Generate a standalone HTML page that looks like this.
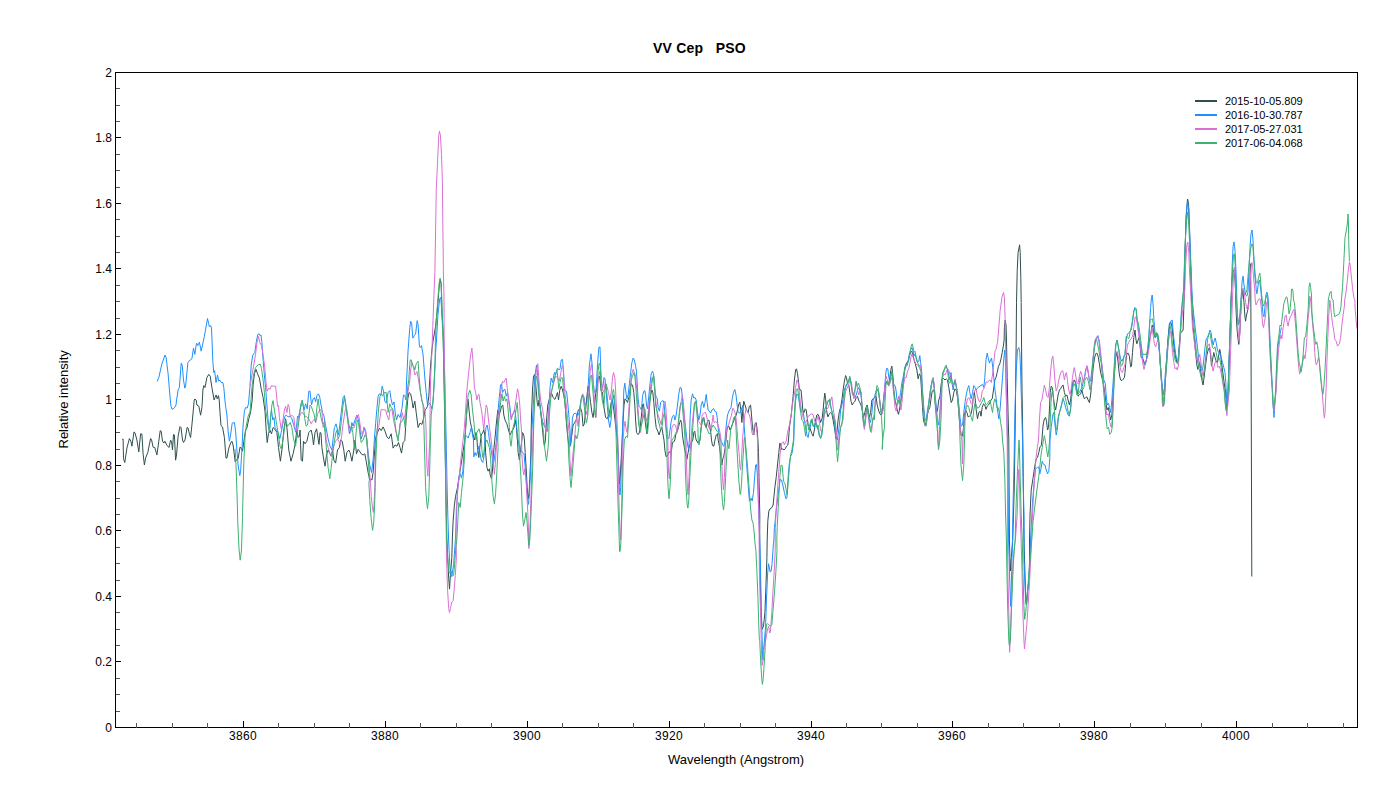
<!DOCTYPE html><html><head><meta charset="utf-8"><title>VV Cep PSO</title><style>
html,body{margin:0;padding:0;background:#fff}
body{width:1400px;height:800px;position:relative;overflow:hidden;font-family:"Liberation Sans",Arial,sans-serif;color:#000}
.t{position:absolute;white-space:pre;line-height:1}
.yl{font-size:12px;text-align:right;width:60px;left:52px}
.xl{font-size:12px;text-align:center;width:60px;top:730px;letter-spacing:.3px}
.lg{font-size:11px;left:1225px}

</style></head><body>
<svg width="1400" height="800" viewBox="0 0 1400 800" style="position:absolute;left:0;top:0">
<g fill="none" stroke-width="1" stroke-linejoin="round">
<polyline stroke="#2F4F4F" points="122.2,439.4 123.1,439.0 123.5,458.8 124.8,462.5 126.9,448.1 129.4,438.5 130.9,441.2 131.9,446.2 134.0,431.9 135.0,432.8 136.9,440.0 138.8,451.9 140.6,433.8 141.9,434.0 143.1,453.8 144.4,465.0 145.6,458.1 147.8,452.5 150.6,438.5 151.6,440.0 153.1,447.2 154.8,447.5 156.9,455.0 158.8,441.2 160.2,430.6 161.2,431.2 162.5,441.2 163.8,443.1 164.8,441.2 166.9,445.2 169.0,447.5 170.6,440.2 171.5,441.2 172.5,450.0 173.5,434.4 174.4,435.0 175.6,460.2 176.5,455.0 178.1,436.2 180.0,426.5 181.0,427.5 182.5,440.0 183.5,442.5 185.0,440.0 187.2,427.2 188.1,428.1 189.4,433.8 190.6,437.5 191.9,425.0 193.8,405.0 194.2,400.0 195.0,399.0 196.2,400.0 196.9,405.0 198.8,406.2 200.6,415.2 201.9,407.5 202.4,400.0 202.9,390.0 203.8,385.6 205.0,387.5 206.9,377.5 208.8,374.4 210.2,376.2 211.9,387.5 214.1,400.0 215.0,397.5 216.2,395.0 217.2,398.8 218.5,395.6 219.2,400.0 220.0,412.5 221.0,425.6 222.5,426.9 224.4,437.5 226.0,458.1 226.9,458.1 228.8,448.1 230.6,443.1 231.9,441.2 233.1,445.0 235.2,461.9 236.2,460.0 238.1,458.8 240.0,447.2 241.2,448.1 242.5,451.2 244.4,437.5 245.6,430.0 246.9,428.1 248.8,418.8 250.6,412.2 252.2,400.0 253.1,385.0 254.4,373.8 256.0,369.4 257.5,373.8 259.4,378.1 261.2,388.8 263.1,397.5 265.0,411.2 266.2,430.0 267.2,442.5 268.5,433.8 269.8,430.0 271.5,433.8 273.1,427.5 275.0,429.4 276.9,432.5 278.5,447.5 280.4,461.2 281.9,450.0 283.8,430.0 285.6,418.8 286.9,427.5 288.8,450.0 291.0,461.2 293.1,453.8 295.0,445.0 296.9,430.0 298.1,437.5 299.4,436.2 300.0,430.0 301.2,460.0 302.5,461.2 303.5,441.2 305.0,443.8 306.9,441.2 308.8,432.5 311.2,430.0 312.5,436.2 313.5,445.0 315.0,432.5 316.6,428.8 318.1,438.8 319.0,444.4 320.0,432.5 321.0,433.1 321.9,447.5 323.8,460.0 325.0,466.2 326.5,455.0 328.1,450.0 330.0,453.8 331.2,456.2 332.5,450.0 333.8,460.0 335.6,463.1 337.5,450.0 339.4,447.5 340.6,440.0 342.2,441.2 343.8,450.0 345.2,461.2 346.9,452.5 348.8,450.0 350.0,452.5 351.9,461.2 353.8,450.0 355.0,440.0 356.5,453.8 358.1,449.4 360.0,451.9 361.2,453.8 363.1,455.0 364.8,453.8 366.2,461.2 368.1,472.5 369.8,480.0 370.8,479.4 371.9,480.0 373.1,472.5 374.4,455.0 375.6,437.5 377.5,432.5 379.4,428.1 381.2,430.6 383.1,426.9 385.0,431.2 386.9,436.9 388.8,438.8 391.2,433.8 393.1,448.1 395.0,445.0 396.9,446.2 398.5,442.5 400.0,447.5 401.5,453.1 403.1,442.5 404.8,440.6 406.2,417.5 407.8,398.8 409.0,392.5 410.6,393.8 411.9,400.0 413.1,408.1 414.8,401.2 416.2,412.5 418.1,427.5 420.0,423.1 421.9,424.4 423.8,417.5 425.0,410.0 426.2,408.8 427.5,406.2 428.8,396.2 430.6,365.0 431.9,350.0 433.2,340.0 435.6,326.3 437.6,307.0 439.3,285.0 440.1,279.5 441.1,283.6 442.0,312.5 443.3,340.0 444.2,390.0 445.0,440.0 445.8,490.0 446.9,540.0 447.7,557.5 448.7,578.1 449.5,589.1 450.4,575.4 451.8,557.5 452.3,540.0 453.1,521.2 454.4,505.0 455.6,496.2 457.5,487.5 460.0,471.2 462.5,455.0 464.8,440.0 465.0,438.8 466.2,420.0 467.5,400.0 468.1,399.4 469.0,410.0 470.2,421.2 471.5,427.5 473.1,435.0 474.6,440.0 475.2,436.2 476.0,432.5 476.6,435.0 477.0,440.0 477.5,447.5 478.8,457.5 479.8,447.5 480.6,440.0 481.2,435.0 482.5,433.1 483.8,430.0 484.8,435.0 485.2,440.0 485.6,452.5 486.9,467.5 488.1,471.2 489.4,468.8 490.2,475.0 491.5,478.8 492.5,470.0 493.5,452.5 494.8,440.0 496.2,425.0 497.8,410.0 499.0,415.0 500.0,412.5 501.5,406.2 502.8,405.0 503.8,415.0 505.0,420.0 506.9,423.8 508.5,430.0 510.0,435.0 511.2,432.5 512.5,430.0 514.0,427.5 515.2,420.0 516.5,427.5 517.2,438.8 517.5,440.0 518.1,452.5 519.4,460.0 520.2,452.5 521.2,445.0 521.9,440.0 522.5,432.5 523.8,435.0 524.4,440.0 525.2,452.5 526.2,468.8 527.2,487.5 528.1,498.8 529.0,493.8 530.0,475.0 531.0,450.0 531.0,440.0 531.5,415.0 532.5,390.0 533.5,376.2 534.8,374.4 536.0,387.5 537.2,402.5 538.1,406.2 539.0,400.0 540.2,407.5 541.5,420.0 542.8,432.5 543.5,440.0 544.4,446.2 545.4,440.0 546.5,420.0 547.8,405.0 549.4,398.8 550.6,395.0 551.9,393.8 553.1,397.5 555.0,399.4 556.2,396.2 557.5,392.5 558.5,400.0 559.8,390.0 561.2,386.2 562.5,390.0 563.8,395.0 565.0,402.5 566.2,420.0 567.5,435.0 568.1,440.0 569.0,447.5 570.0,446.2 571.2,440.0 573.1,425.0 574.4,423.1 576.2,420.0 577.5,412.5 578.8,409.4 580.6,408.1 581.9,412.5 583.1,426.2 584.4,423.8 585.6,410.0 586.9,396.2 588.1,386.2 589.4,392.5 590.6,402.5 591.9,412.5 593.1,417.5 594.4,407.5 595.6,393.8 596.9,387.5 598.1,377.5 599.4,376.2 600.0,380.0 601.2,391.2 602.5,392.5 604.0,407.5 605.6,417.5 607.2,418.8 608.8,415.0 610.0,410.0 611.2,402.5 612.5,400.0 613.8,410.0 615.0,420.0 616.2,430.0 617.5,440.0 618.5,465.0 619.4,483.8 620.2,477.5 621.2,458.8 622.2,440.0 623.1,420.0 624.0,405.0 625.0,398.8 626.2,400.0 627.5,402.5 628.8,397.5 630.0,390.0 631.2,383.8 632.5,385.0 633.8,392.5 634.8,405.0 635.6,420.0 636.5,432.5 637.8,434.4 639.0,433.8 640.2,427.5 641.5,415.0 642.5,405.0 643.5,403.8 644.4,412.5 645.6,425.0 646.9,433.8 648.1,420.0 649.4,405.0 650.6,395.0 651.9,390.0 652.8,392.5 653.8,402.5 655.0,417.5 656.2,427.5 657.8,431.2 659.0,435.0 660.6,430.0 661.9,427.5 663.1,435.0 664.0,440.0 665.0,451.2 666.2,456.9 667.8,455.0 669.0,451.9 670.2,452.5 671.5,450.0 672.5,442.5 673.8,441.9 674.8,440.0 676.2,432.5 677.8,430.0 679.0,425.0 680.6,420.0 681.5,422.5 682.5,435.0 683.1,440.0 684.4,447.5 685.6,453.8 686.9,459.4 688.1,452.5 689.4,446.2 691.2,442.5 692.8,440.0 693.8,432.5 694.8,431.2 695.6,437.5 696.2,440.0 698.1,443.1 700.0,440.0 701.2,427.5 702.5,420.0 703.8,417.5 705.0,425.0 706.2,427.5 707.5,421.2 708.8,420.0 709.8,425.0 711.0,435.0 711.5,440.0 712.5,445.6 713.8,446.2 715.0,440.0 716.2,435.0 717.5,433.8 718.2,440.0 719.4,446.2 720.6,455.0 721.9,465.0 722.8,458.8 723.8,456.2 724.8,450.0 726.0,440.0 727.2,427.5 728.8,426.2 730.0,430.0 731.2,427.5 733.1,422.5 735.0,417.5 736.2,415.0 737.5,410.0 738.5,405.0 739.8,402.2 741.0,411.2 741.9,422.5 742.8,410.0 743.8,401.2 745.0,405.0 746.5,410.0 748.1,412.5 749.4,406.2 750.6,405.0 751.5,415.0 752.5,427.5 753.8,435.0 755.0,423.8 756.2,422.5 757.2,430.0 757.9,440.0 758.5,452.5 759.0,477.5 759.8,515.0 759.7,540.0 760.1,571.3 761.0,612.5 762.1,629.3 763.5,626.3 764.9,612.5 766.0,585.0 766.9,557.5 767.2,540.0 767.8,521.2 768.8,511.2 770.0,508.8 771.9,507.5 773.1,505.0 774.0,496.2 775.0,486.2 776.2,477.5 777.5,465.0 778.8,452.5 779.8,443.1 780.6,443.8 781.5,449.4 782.8,448.8 784.0,450.0 785.2,448.8 786.5,446.2 787.8,445.0 788.5,440.0 789.4,427.5 791.2,415.0 793.1,396.2 794.4,380.0 795.6,370.0 796.5,368.8 797.5,373.8 798.5,381.2 799.4,389.4 801.0,390.0 801.9,398.8 802.8,410.0 804.0,412.5 805.2,408.8 806.2,410.0 807.2,417.5 808.1,425.0 809.4,426.2 810.6,430.0 811.9,433.8 813.1,436.2 814.4,430.0 815.6,420.0 816.9,415.0 818.1,414.4 819.4,417.5 820.6,422.5 822.2,418.1 823.1,410.0 824.0,400.0 824.8,393.1 825.6,398.8 826.5,410.0 827.8,416.9 829.4,413.8 830.6,412.5 831.9,413.8 833.1,420.0 834.8,430.0 836.0,438.8 836.9,432.5 838.1,420.0 839.4,411.2 840.6,407.5 841.9,400.0 843.1,390.0 844.4,381.2 845.6,375.6 846.5,377.5 847.5,383.8 848.8,385.0 849.8,392.5 851.0,401.2 852.2,405.0 853.8,402.5 855.0,401.2 856.2,397.5 857.5,396.2 858.5,400.0 859.8,402.5 861.0,405.0 862.2,410.0 863.5,417.5 864.8,412.5 866.0,407.5 867.2,405.0 868.1,410.0 869.4,417.5 870.6,412.5 871.9,400.0 873.1,398.8 874.4,397.5 876.0,396.2 877.2,405.0 878.5,410.0 879.8,413.8 881.0,415.0 882.2,411.2 883.5,400.0 884.8,387.5 886.0,381.2 887.2,383.8 888.5,385.0 889.8,377.5 891.0,368.8 891.9,366.2 892.8,375.0 893.8,390.0 895.0,400.0 896.2,405.0 897.5,411.2 898.5,414.4 899.4,410.0 900.6,402.5 901.9,392.5 903.1,382.5 904.4,372.5 905.6,365.0 906.9,362.5 908.1,361.2 909.4,356.2 910.6,352.5 911.9,351.2 913.1,356.2 914.4,361.2 915.6,365.0 916.9,370.0 918.1,378.8 919.4,373.8 920.6,376.2 921.5,390.0 922.5,407.5 923.5,420.0 924.8,425.0 926.0,422.5 927.2,415.0 928.5,410.0 929.8,407.5 931.0,398.8 932.2,391.2 933.5,390.0 934.4,392.5 935.2,402.5 936.5,412.5 937.5,410.0 938.8,400.0 940.0,396.2 941.2,383.8 942.5,377.5 943.8,378.8 945.0,380.0 946.2,378.8 947.5,380.0 948.8,387.5 950.0,395.0 951.2,402.5 952.5,400.0 953.8,392.5 955.0,388.8 956.2,390.0 957.5,397.5 958.8,412.5 960.0,427.5 961.2,435.0 962.5,436.2 963.5,427.5 964.4,415.0 965.6,410.0 966.9,412.5 968.1,416.9 969.4,416.2 970.6,415.0 971.9,410.0 973.1,398.8 974.4,392.5 975.2,398.8 976.2,410.0 977.5,418.8 978.8,412.5 980.0,411.2 981.0,416.2 982.2,407.5 983.5,403.8 984.8,405.0 986.0,409.4 987.2,406.2 988.5,405.0 989.8,402.5 991.0,400.0 992.2,398.8 993.5,390.0 994.8,380.0 996.0,377.5 997.2,372.5 998.5,366.2 999.8,363.8 1001.0,358.8 1002.2,352.5 1003.5,345.0 1004.1,340.0 1004.4,327.5 1005.2,320.0 1006.0,325.0 1006.5,340.0 1007.2,377.5 1008.1,415.0 1008.8,440.0 1009.1,490.0 1009.4,540.0 1009.9,557.5 1010.4,571.0 1011.3,557.5 1012.7,540.0 1014.2,490.0 1015.0,440.0 1015.6,390.0 1016.2,340.0 1016.5,302.5 1017.2,271.2 1018.1,252.5 1019.6,244.8 1020.2,252.5 1020.8,277.5 1021.2,302.5 1021.5,340.0 1022.0,390.0 1022.8,440.0 1023.2,477.5 1023.8,527.5 1024.0,540.0 1024.7,564.4 1025.7,598.8 1026.4,602.9 1027.5,590.5 1028.9,579.5 1029.7,557.5 1029.5,540.0 1030.0,515.0 1031.2,490.0 1033.1,477.5 1035.0,465.0 1036.2,458.8 1037.5,457.5 1038.8,452.5 1040.0,446.9 1041.2,445.6 1041.9,440.0 1043.1,425.0 1044.4,418.8 1045.6,417.5 1046.5,421.2 1047.5,430.0 1048.5,427.5 1049.4,410.0 1050.2,392.5 1051.2,386.2 1052.2,387.5 1053.1,395.0 1054.4,405.0 1055.6,410.0 1056.9,402.5 1058.1,395.0 1059.4,390.0 1060.6,388.8 1061.9,386.2 1063.1,385.0 1064.4,392.5 1065.6,396.2 1066.9,395.0 1068.1,400.0 1069.4,405.0 1070.6,400.0 1071.9,387.5 1073.1,381.2 1074.4,380.0 1075.6,382.5 1076.9,390.0 1078.1,396.2 1079.4,395.0 1080.6,393.8 1081.9,390.0 1083.1,395.0 1084.4,398.8 1085.6,397.5 1086.9,396.9 1088.1,400.0 1089.4,402.5 1090.6,395.0 1091.9,382.5 1093.1,368.8 1094.4,358.8 1095.6,353.8 1096.9,353.1 1098.1,356.2 1099.4,363.8 1100.6,372.5 1101.9,377.5 1103.1,382.5 1104.4,390.0 1105.6,400.0 1106.9,410.0 1108.1,407.5 1109.4,412.5 1110.6,420.0 1111.9,415.0 1113.1,395.0 1114.4,375.0 1115.6,357.5 1116.9,352.5 1118.1,362.5 1119.4,375.0 1120.6,380.0 1121.9,380.6 1123.1,379.4 1124.4,377.5 1125.0,372.5 1126.0,360.0 1126.9,353.8 1128.1,353.1 1129.4,356.2 1130.6,366.9 1131.5,366.2 1132.5,352.5 1133.8,337.5 1135.0,330.0 1136.0,340.0 1136.9,343.8 1138.1,340.0 1139.0,337.5 1140.0,345.0 1141.2,357.5 1142.5,358.8 1143.8,361.2 1145.0,365.0 1146.2,361.2 1147.5,352.5 1148.8,345.0 1150.0,337.5 1151.2,331.2 1152.2,325.0 1153.1,327.5 1154.0,335.0 1155.2,337.5 1156.5,333.8 1157.8,335.0 1158.8,342.5 1160.0,360.0 1161.2,377.5 1162.2,390.0 1163.5,405.6 1164.8,390.0 1165.6,375.0 1166.9,355.0 1168.1,337.5 1169.4,323.8 1170.6,321.9 1171.9,326.2 1173.1,337.5 1174.4,350.0 1175.6,357.5 1176.9,362.5 1178.1,361.2 1179.4,345.0 1180.6,332.5 1181.9,331.9 1183.1,330.0 1183.8,308.8 1184.4,290.0 1185.0,252.5 1186.2,215.0 1187.5,199.0 1188.5,202.5 1189.4,227.5 1190.6,265.0 1191.2,290.0 1191.9,308.8 1193.1,327.5 1194.4,340.0 1195.6,352.5 1196.9,365.0 1197.8,369.4 1198.8,365.0 1199.8,362.5 1200.6,370.0 1201.9,380.0 1203.1,385.0 1204.4,375.0 1205.6,365.0 1206.9,355.0 1208.1,350.0 1209.4,347.5 1210.6,355.0 1211.5,366.2 1212.5,360.0 1213.8,352.5 1215.0,357.5 1216.2,361.2 1217.5,362.5 1218.8,355.0 1219.8,349.4 1220.6,353.8 1221.5,362.5 1222.5,370.0 1223.8,380.0 1225.0,388.8 1225.6,390.0 1226.0,402.5 1226.5,410.0 1227.5,400.0 1228.1,390.0 1229.0,365.0 1230.0,333.8 1231.0,302.5 1231.5,290.0 1232.2,277.5 1233.1,270.0 1234.0,271.2 1235.0,280.0 1235.5,290.0 1236.0,308.8 1236.9,327.5 1237.8,337.5 1238.8,344.4 1239.8,333.8 1240.6,315.0 1241.5,300.0 1242.8,290.0 1244.0,302.5 1245.0,317.5 1245.6,321.2 1246.5,315.0 1247.5,311.2 1248.5,302.5 1249.8,290.0 1250.2,270.0 1250.7,263.7 1251.0,340.0 1251.8,576.5"/>
<polyline stroke="#1E90FF" points="157.2,381.5 158.8,377.5 161.9,363.8 165.0,355.0 166.2,357.8 168.1,373.8 170.3,400.0 171.0,406.2 172.2,409.4 174.4,407.8 176.0,405.0 176.6,400.0 178.1,390.0 179.4,387.5 181.2,363.1 182.2,365.0 183.5,380.0 184.8,388.1 185.6,386.2 187.9,362.5 188.8,361.2 191.9,358.8 193.5,348.1 194.8,354.4 196.5,343.1 197.8,345.6 199.4,342.2 201.2,351.2 204.4,336.2 207.5,318.5 209.4,326.9 210.6,325.6 211.5,328.1 212.9,362.5 213.8,372.5 214.6,370.6 216.0,382.5 217.5,375.0 218.8,381.2 219.8,380.0 221.2,382.5 222.8,382.5 223.8,387.5 224.9,400.0 225.6,406.2 226.9,415.0 228.1,431.2 229.4,441.2 230.6,435.0 232.2,423.1 234.4,422.5 235.6,431.2 236.9,450.0 238.1,465.0 239.8,475.6 240.6,471.2 241.9,450.0 243.1,425.0 244.4,411.2 245.6,407.5 247.2,408.1 248.5,403.8 248.8,400.0 250.0,386.2 251.2,365.0 252.8,355.0 254.8,352.5 256.2,342.5 257.8,334.4 259.0,333.8 260.0,335.6 261.0,335.0 261.9,342.5 263.1,360.0 264.8,380.0 265.6,387.5 266.9,405.0 268.1,420.0 269.4,432.5 270.6,417.5 271.5,410.0 272.8,420.0 274.0,417.5 275.0,427.5 276.5,430.0 278.1,432.5 279.8,438.8 281.2,432.5 283.1,422.5 285.0,416.2 286.2,415.0 288.1,416.9 290.0,416.2 291.9,418.8 293.5,424.4 294.8,429.4 296.0,432.5 297.5,416.2 298.5,417.5 300.0,410.0 301.5,404.4 302.5,402.5 304.0,410.0 305.6,403.8 307.2,408.8 308.8,391.2 310.0,391.2 311.5,405.0 313.1,398.8 314.4,397.5 315.6,401.9 316.9,395.6 318.5,393.8 319.8,397.5 321.0,405.0 322.5,412.5 324.0,416.2 325.2,423.8 326.5,430.0 328.1,438.8 330.0,446.2 331.9,450.0 333.1,438.8 334.4,427.5 336.0,423.8 337.5,430.0 338.5,435.0 339.8,425.0 341.2,412.5 343.1,397.5 344.4,395.6 345.6,402.5 346.9,413.8 348.1,423.8 349.4,433.8 350.6,430.0 351.9,422.5 353.1,426.2 355.0,420.0 356.9,415.0 358.8,421.2 360.0,430.0 361.2,438.8 362.5,435.0 364.0,427.5 365.6,432.5 366.9,440.0 368.1,452.5 369.8,465.0 371.5,472.5 373.1,460.0 374.4,438.8 375.6,423.8 376.9,408.8 378.1,396.2 379.4,393.8 381.0,395.0 382.2,386.2 383.5,391.2 384.8,401.2 386.2,403.1 388.1,392.5 389.8,390.6 391.0,398.8 392.5,405.0 394.0,401.9 395.2,412.5 396.5,420.0 398.1,414.4 400.0,417.5 401.9,408.8 403.5,395.0 405.0,396.2 406.0,400.0 406.6,380.0 406.9,375.0 408.1,350.0 409.8,327.5 410.6,321.2 411.6,322.5 412.8,338.1 414.4,335.6 415.6,333.8 417.2,320.6 418.1,325.0 419.4,346.2 420.2,347.5 421.5,345.6 423.1,355.0 425.0,380.0 426.2,392.5 427.5,405.0 430.0,403.1 431.9,408.8 433.1,402.5 434.4,377.5 435.6,352.5 436.5,340.0 437.9,315.3 439.7,298.8 440.7,297.4 441.5,307.0 442.9,326.3 443.9,340.0 445.0,390.0 446.2,440.0 446.9,477.5 447.8,515.0 448.6,540.0 449.1,550.6 450.0,568.5 451.1,576.8 452.2,574.0 453.6,564.4 454.6,550.6 455.4,540.0 456.5,515.0 457.5,490.0 458.8,477.5 460.2,473.8 461.5,478.1 462.8,471.2 464.0,452.5 465.0,440.0 465.2,435.0 466.9,436.2 468.1,438.1 470.0,432.5 471.5,426.9 472.5,435.0 473.5,440.0 473.8,456.9 475.0,452.5 476.2,455.6 477.5,451.9 479.0,446.2 480.0,452.5 481.2,460.0 482.8,462.5 484.0,456.2 484.8,440.0 486.0,427.5 487.2,425.0 488.5,432.5 489.4,440.0 490.6,447.5 491.9,455.0 493.1,465.0 494.4,458.8 495.6,447.5 496.5,440.0 498.1,410.0 499.4,396.2 500.6,385.0 501.5,383.8 502.5,392.5 503.8,390.0 505.0,389.4 506.2,396.2 507.5,392.5 508.8,400.0 510.0,407.5 511.2,418.1 512.5,415.0 513.8,412.5 515.0,410.0 516.2,421.2 517.2,432.5 518.1,440.0 519.4,447.5 521.2,451.2 522.8,452.5 524.0,453.8 525.0,465.0 526.0,477.5 526.9,490.0 527.8,501.2 528.5,504.4 529.4,493.8 530.2,477.5 531.2,452.5 531.4,440.0 532.5,420.0 533.8,396.2 535.0,375.0 536.5,365.0 537.5,372.5 538.8,390.0 540.0,405.0 541.2,415.0 542.5,421.2 544.4,426.2 546.2,430.0 547.5,431.2 548.8,410.0 550.0,387.5 551.2,378.1 552.5,382.5 554.4,372.5 555.6,375.0 557.5,368.1 558.8,370.0 560.0,368.8 561.2,360.0 562.5,359.4 563.5,371.2 564.4,387.5 565.2,390.6 566.5,391.2 567.5,400.0 568.8,415.0 570.0,430.0 570.5,440.0 570.6,445.6 571.2,440.0 571.5,435.0 572.5,417.5 573.8,413.8 575.6,413.1 577.5,416.2 579.0,412.5 580.6,402.5 582.2,395.0 583.8,396.2 585.2,405.0 586.9,402.5 588.1,387.5 589.4,365.0 591.0,353.8 592.2,365.0 593.1,381.2 594.4,392.5 596.0,390.0 597.5,365.0 598.8,347.5 600.0,346.9 600.6,365.0 601.5,383.8 602.8,387.5 604.0,377.5 605.0,378.8 606.0,390.0 607.2,405.0 608.5,420.0 609.8,427.5 611.0,420.0 612.2,402.5 613.5,395.0 614.8,405.0 616.0,421.2 617.2,440.0 618.1,452.5 618.8,471.2 619.4,490.0 620.0,495.0 620.6,487.5 621.2,471.2 621.9,452.5 622.2,440.0 623.1,415.0 623.8,390.0 624.8,383.1 625.6,390.0 626.9,398.8 628.1,395.0 629.4,383.8 630.6,372.5 631.9,362.5 633.1,358.1 634.4,360.0 635.6,366.2 636.5,371.2 637.2,383.8 638.1,398.8 639.0,406.2 640.2,407.5 641.5,410.0 642.5,396.2 643.8,391.2 644.8,390.6 645.6,395.0 646.5,405.0 647.5,408.8 648.8,396.2 650.0,383.8 651.2,373.8 652.5,371.2 653.5,373.8 654.4,382.5 655.2,392.5 656.2,397.5 657.2,398.1 658.1,407.5 659.4,411.2 660.6,402.5 661.9,401.2 663.1,400.6 664.0,402.5 665.0,415.0 666.2,427.5 667.5,437.5 668.8,438.8 670.0,430.0 671.2,421.2 672.5,416.2 673.8,415.0 675.0,420.0 676.2,415.0 677.5,405.0 678.8,393.8 680.0,387.5 681.2,388.1 682.2,395.0 683.1,407.5 684.4,417.5 685.6,427.5 686.9,440.0 687.8,446.2 688.5,448.8 689.4,440.0 690.2,415.0 691.2,400.0 692.5,393.8 693.8,398.1 695.0,397.5 696.2,400.0 697.2,410.0 698.8,420.0 700.0,415.0 701.2,405.0 702.5,401.2 703.8,407.5 705.0,402.5 706.2,394.4 707.2,402.5 708.1,410.0 709.4,411.2 710.6,413.1 711.9,410.0 713.5,408.5 714.8,411.2 716.2,411.9 717.2,417.5 718.1,427.5 719.4,435.0 720.6,440.0 721.9,442.5 723.1,445.6 724.0,446.2 725.0,440.0 726.0,427.5 727.5,415.0 729.4,410.0 731.0,407.5 732.2,398.8 733.5,392.5 734.8,389.4 736.0,395.0 737.2,405.0 738.1,412.5 739.8,413.1 741.2,410.0 742.8,405.0 743.8,420.0 744.8,435.0 745.2,440.0 746.5,462.5 748.1,483.8 749.4,501.2 751.0,498.1 752.2,501.0 753.5,492.5 754.8,475.0 755.6,465.0 756.5,464.4 757.2,472.5 758.1,496.2 759.0,521.2 759.8,540.0 760.5,571.3 761.4,612.5 762.2,640.0 762.4,650.3 762.8,659.9 763.4,650.3 764.5,640.0 765.6,626.3 766.5,598.8 767.6,574.0 768.5,563.7 769.3,567.1 770.1,571.9 771.1,571.3 772.0,564.4 773.4,543.8 773.9,540.0 774.4,527.5 775.0,522.5 776.2,510.0 777.5,500.0 778.8,490.0 780.2,479.4 781.5,480.0 782.8,485.0 784.4,492.5 786.0,498.8 786.9,497.5 788.1,477.5 789.4,462.5 790.6,456.2 791.9,453.8 793.1,446.2 793.8,440.0 794.4,420.0 795.6,400.0 796.9,393.8 798.1,395.0 799.4,402.5 800.6,410.0 801.9,412.5 803.1,411.2 804.4,420.0 805.6,427.5 806.9,435.0 808.1,437.5 809.4,430.0 810.6,425.0 811.9,420.0 813.1,426.2 814.4,427.5 815.6,421.2 816.9,425.0 818.1,430.0 819.4,436.2 820.6,437.5 821.9,432.5 823.1,420.0 824.4,410.0 825.6,407.5 826.9,405.0 828.1,401.2 829.4,400.0 830.6,406.2 831.9,411.2 833.1,416.2 834.4,421.2 835.6,435.0 837.3,440.0 839.4,425.0 840.6,410.0 841.9,405.0 843.1,398.8 844.4,390.0 845.6,386.2 846.9,383.8 848.1,382.5 849.8,377.5 851.0,383.8 852.2,390.0 853.5,395.0 855.0,397.5 856.2,395.0 857.5,390.0 858.5,387.5 859.8,390.0 861.0,395.0 862.2,407.5 863.5,422.5 864.4,427.5 865.6,417.5 866.9,407.5 868.1,412.5 869.4,420.0 870.6,422.5 871.9,412.5 873.1,400.0 874.4,397.5 875.6,392.5 876.9,388.8 878.1,390.0 879.4,397.5 880.6,407.5 881.9,412.5 883.1,410.0 884.0,400.0 885.0,382.5 886.0,371.2 886.9,368.1 887.8,368.8 888.8,377.5 889.8,381.2 891.0,376.2 891.9,372.5 892.8,377.5 893.8,385.0 895.0,385.6 896.0,390.0 896.9,398.8 898.1,402.5 899.4,400.0 900.6,392.5 901.9,382.5 903.1,377.5 904.4,370.0 905.6,365.0 906.9,366.2 908.1,361.2 909.4,353.8 910.6,350.0 911.9,347.5 912.8,350.0 913.8,356.2 915.0,353.8 916.2,358.8 917.5,362.5 918.8,361.2 919.8,355.6 920.6,362.5 921.5,368.8 922.5,390.0 923.8,407.5 925.0,420.0 926.2,420.0 927.5,410.0 928.8,402.5 930.0,392.5 931.2,385.0 932.5,380.0 933.8,382.5 935.0,395.0 936.2,405.0 937.5,420.0 938.8,425.0 940.0,410.0 941.2,390.0 942.5,375.0 943.8,370.0 945.0,368.8 946.2,366.9 947.5,368.8 948.8,375.0 950.0,380.0 951.0,372.5 951.9,381.2 953.1,390.0 954.4,381.2 955.2,379.4 956.2,386.2 957.5,392.5 958.8,405.0 960.0,417.5 961.2,426.2 962.5,425.0 963.8,412.5 965.0,402.5 966.2,395.0 967.5,388.8 968.8,385.6 970.0,393.8 971.2,398.8 972.5,392.5 973.8,385.6 975.0,387.5 976.2,390.0 977.8,387.5 980.0,386.2 982.5,384.4 983.8,387.5 984.8,377.5 986.0,360.0 987.2,353.1 988.1,357.5 989.4,363.1 990.6,360.0 991.5,358.1 992.5,365.0 993.8,377.5 995.0,390.0 996.2,398.8 997.5,410.0 998.8,418.8 1000.0,410.0 1001.2,395.0 1002.5,377.5 1003.8,358.8 1004.8,350.0 1005.6,365.0 1006.5,402.5 1007.5,440.0 1008.1,490.0 1008.6,540.0 1009.1,557.5 1009.9,585.0 1010.6,606.3 1011.0,598.8 1011.7,571.3 1012.4,543.8 1012.5,540.0 1013.1,502.5 1014.0,465.0 1014.4,440.0 1015.2,402.5 1016.2,371.2 1017.5,350.0 1018.8,347.5 1019.8,352.5 1020.6,371.2 1021.5,402.5 1022.5,440.0 1023.1,477.5 1024.0,515.0 1024.1,540.0 1023.9,557.5 1025.0,585.0 1025.8,604.3 1026.7,604.3 1027.5,596.0 1028.4,585.0 1029.4,571.3 1030.5,550.6 1030.5,540.0 1031.2,527.5 1032.5,502.5 1034.0,483.8 1035.6,468.8 1037.5,467.5 1038.8,466.9 1039.8,473.8 1041.0,468.8 1042.2,461.2 1043.5,464.4 1045.0,465.0 1046.2,470.0 1047.5,473.8 1048.8,471.2 1049.8,458.8 1050.0,440.0 1051.2,427.5 1052.8,415.0 1053.8,412.5 1055.0,425.0 1056.2,435.0 1057.2,430.0 1058.5,417.5 1060.0,410.0 1061.5,405.0 1063.1,398.8 1064.4,402.5 1065.6,407.5 1066.9,411.2 1068.1,415.0 1069.4,416.2 1070.6,407.5 1071.9,392.5 1073.1,383.8 1074.4,381.2 1075.6,382.5 1076.9,390.0 1078.1,393.8 1079.4,392.5 1080.6,390.0 1081.9,387.5 1083.1,382.5 1084.4,377.5 1085.6,370.0 1086.9,366.2 1088.1,372.5 1089.4,380.0 1090.6,381.2 1091.9,370.0 1093.1,357.5 1094.4,347.5 1095.6,340.0 1096.9,338.8 1097.9,335.6 1098.8,340.0 1100.0,350.0 1101.2,360.0 1102.5,370.0 1103.8,380.0 1105.2,383.1 1106.2,395.0 1107.2,405.0 1108.5,403.1 1109.4,407.5 1110.6,412.5 1111.9,400.0 1113.1,382.5 1114.4,362.5 1115.6,345.0 1117.2,340.0 1119.4,352.5 1120.6,358.8 1121.9,361.2 1123.1,358.8 1124.4,355.0 1125.0,354.7 1126.2,340.0 1127.5,333.8 1128.8,333.1 1130.0,331.2 1131.2,330.0 1132.5,322.5 1133.8,311.2 1134.8,307.5 1136.0,308.8 1136.9,318.8 1138.1,327.5 1139.4,337.5 1140.6,345.0 1141.9,352.5 1143.1,360.0 1144.4,365.0 1145.6,362.5 1146.9,357.5 1148.1,347.5 1149.4,327.5 1150.6,307.5 1151.5,297.5 1152.2,295.0 1153.1,305.0 1154.0,321.2 1155.0,332.5 1156.2,336.2 1157.5,337.5 1158.8,345.0 1160.0,360.0 1161.2,375.0 1162.5,387.5 1163.1,390.0 1163.5,395.0 1164.4,390.0 1165.2,375.0 1166.5,360.0 1167.8,342.5 1169.0,330.0 1170.2,323.8 1171.2,320.6 1172.2,320.0 1173.1,331.2 1174.4,343.8 1175.6,353.8 1176.9,360.0 1178.1,360.0 1179.4,345.0 1180.6,325.0 1181.5,308.8 1182.2,305.0 1183.1,295.0 1183.8,290.0 1185.0,252.5 1186.2,217.5 1187.5,201.2 1188.8,208.8 1190.0,240.0 1191.2,271.2 1191.9,290.0 1192.5,302.5 1193.8,315.0 1195.0,326.2 1196.2,336.2 1197.5,347.5 1198.8,360.0 1200.0,367.5 1201.2,370.0 1202.5,370.0 1203.8,360.0 1205.0,347.5 1206.2,338.8 1207.5,337.5 1208.8,333.8 1210.0,330.0 1211.0,332.5 1211.9,338.8 1213.1,345.0 1214.4,340.0 1215.2,338.1 1216.2,342.5 1217.5,350.0 1218.8,352.5 1220.0,353.8 1221.2,357.5 1222.5,362.5 1223.8,367.5 1225.0,372.5 1225.8,382.5 1226.1,390.0 1226.9,402.5 1227.8,397.5 1228.2,390.0 1228.8,365.0 1229.8,340.0 1230.6,315.0 1231.5,290.0 1232.2,265.0 1233.1,246.2 1234.0,241.9 1235.0,250.0 1236.0,271.2 1236.6,290.0 1237.1,308.8 1238.1,325.0 1239.4,322.5 1240.2,315.0 1241.2,296.2 1241.6,290.0 1242.2,280.0 1243.1,276.2 1244.0,285.0 1244.8,290.0 1245.6,295.0 1246.9,296.2 1247.8,292.5 1248.1,290.0 1249.0,270.0 1250.0,247.5 1251.0,233.8 1252.0,230.0 1253.0,240.0 1254.0,260.0 1255.0,277.5 1256.0,286.2 1256.2,290.0 1256.9,293.8 1257.5,290.0 1258.5,282.5 1259.5,280.0 1260.2,285.0 1260.8,290.0 1261.9,302.5 1263.1,315.0 1264.0,316.9 1264.8,308.8 1265.6,297.5 1266.5,292.5 1267.2,292.5 1268.1,297.5 1268.8,315.0 1270.0,340.0 1271.2,365.0 1272.5,390.0 1273.1,405.0 1274.0,417.5 1274.8,405.0 1276.0,390.0 1276.9,365.0 1278.1,345.0 1279.4,337.5 1280.6,331.2 1281.5,327.5"/>
<polyline stroke="#DA70D6" points="250.0,386.2 251.9,375.0 253.8,365.0 255.6,353.8 257.2,341.2 258.5,336.5 259.8,342.5 261.5,345.6 263.1,355.0 264.8,367.5 266.0,382.5 267.2,391.2 268.8,388.1 270.0,389.4 271.5,385.6 273.1,386.2 275.6,386.2 276.5,395.0 277.5,406.2 278.5,405.6 279.4,417.5 281.2,428.8 282.8,421.2 284.4,410.0 285.6,406.2 286.9,412.5 288.1,404.4 289.0,406.2 290.2,416.2 292.5,415.6 293.8,417.5 295.0,427.5 296.2,431.2 298.1,421.2 300.0,415.0 301.5,412.5 303.1,413.1 305.0,416.2 306.9,416.9 308.5,418.8 310.0,421.2 311.2,423.8 312.5,421.2 314.4,419.4 315.6,422.5 316.9,417.5 318.1,412.5 320.0,409.4 321.9,411.2 323.1,427.5 324.8,421.2 326.2,440.0 328.1,447.5 330.0,453.8 331.2,456.2 332.5,450.0 334.0,445.0 335.6,441.2 337.5,438.8 339.4,442.5 340.2,445.0 341.5,437.5 343.1,423.8 345.0,411.2 346.5,407.5 347.8,417.5 349.0,430.0 350.6,432.5 351.9,427.5 353.8,428.1 355.2,423.8 356.9,416.2 358.5,414.4 359.8,422.5 361.2,432.5 362.5,435.0 364.0,426.9 365.6,430.0 366.9,438.8 368.1,455.0 369.4,470.0 370.3,480.0 370.5,483.1 371.3,496.3 372.4,506.8 373.3,512.5 374.0,505.0 374.6,491.9 375.0,483.1 374.9,480.0 375.4,455.0 376.2,436.2 377.2,429.4 378.8,426.2 380.0,417.5 381.2,409.4 383.8,409.8 385.6,410.0 386.9,415.0 388.8,420.0 390.0,410.0 391.9,408.8 393.5,420.0 395.6,430.0 397.5,437.5 399.4,432.5 400.6,421.2 402.2,412.5 403.5,418.8 405.0,415.0 406.5,402.5 408.1,391.2 409.9,380.0 410.6,370.0 411.9,362.5 413.1,366.2 415.0,375.0 416.9,371.5 418.1,377.5 418.5,380.0 420.0,390.0 421.9,400.0 423.8,406.9 425.0,410.0 426.0,427.5 426.2,440.0 426.9,465.0 427.8,476.2 428.8,458.8 429.8,440.0 430.0,415.0 430.6,377.5 431.9,352.5 432.3,340.0 432.8,326.3 433.8,298.8 434.9,271.3 435.6,230.0 436.3,188.8 437.6,161.3 438.7,136.5 439.4,131.3 440.4,135.1 441.5,154.4 442.4,181.9 442.9,230.0 443.4,271.3 444.0,298.8 444.1,340.0 444.8,390.0 445.6,440.0 446.0,502.5 446.3,540.0 446.7,564.4 447.7,591.9 448.7,608.4 449.5,612.5 450.4,608.4 451.8,602.2 453.2,600.8 454.2,589.1 455.3,575.4 456.4,557.5 456.0,540.0 456.2,510.0 457.8,490.0 459.4,475.0 461.2,456.2 462.5,445.0 463.1,440.0 464.4,427.5 465.6,410.0 466.9,390.0 468.8,371.2 470.6,355.0 471.9,348.1 473.1,362.5 474.4,387.5 475.6,392.5 476.9,400.0 478.1,395.0 479.0,394.4 480.0,402.5 481.5,410.0 482.8,421.2 483.8,430.0 485.0,415.0 486.2,405.0 487.2,407.5 488.5,420.0 490.0,431.2 491.2,440.0 492.5,452.5 493.5,465.0 494.4,474.4 495.2,465.0 496.2,450.0 497.1,440.0 498.8,415.0 500.0,400.0 501.2,387.5 502.5,381.2 503.8,382.5 505.0,380.0 506.2,378.1 507.2,387.5 508.5,400.0 509.8,410.0 511.2,420.0 512.5,415.0 514.4,410.0 516.0,400.0 517.5,388.8 518.5,392.5 519.8,405.0 520.6,420.0 521.9,435.0 521.6,440.0 521.9,455.0 523.1,471.2 523.8,475.0 524.8,468.8 526.0,480.0 526.9,496.2 527.8,512.5 528.5,530.0 528.5,540.0 528.8,548.6 529.5,540.0 530.2,520.0 531.2,490.0 532.2,458.8 532.8,440.0 533.8,415.0 535.0,390.0 536.2,372.5 537.8,363.8 538.8,377.5 539.4,387.5 540.6,400.0 542.5,408.8 543.8,417.5 545.2,426.2 546.5,431.9 548.1,420.0 549.4,402.5 550.6,392.5 551.9,389.4 553.8,382.5 555.6,376.2 557.5,377.5 559.4,381.2 560.6,373.8 562.2,365.6 563.1,367.5 564.0,381.2 565.0,393.8 566.0,402.5 567.5,417.5 569.4,435.0 569.4,440.0 569.8,458.8 571.0,476.2 572.5,458.8 574.4,440.0 576.0,422.5 576.9,417.5 578.1,426.2 579.4,415.0 581.0,400.0 582.8,393.8 584.0,400.0 585.6,410.0 587.2,415.0 588.8,392.5 590.2,371.2 591.5,363.8 592.5,372.5 593.8,390.0 595.0,410.0 596.0,417.5 597.2,396.2 598.5,377.5 600.0,371.2 601.2,377.5 602.5,390.0 603.8,392.5 605.2,382.5 606.9,386.2 608.5,392.5 610.0,400.0 611.5,390.0 612.5,377.5 613.5,372.5 614.8,377.5 615.6,390.0 616.5,410.0 617.5,432.5 617.9,440.0 618.1,465.0 619.0,502.5 620.0,533.8 620.6,540.0 621.5,515.0 622.2,477.5 623.1,440.0 624.0,427.5 625.0,421.2 626.2,430.0 627.2,432.5 628.5,415.0 630.0,390.0 631.5,375.0 633.1,369.4 634.4,372.5 635.6,376.2 636.9,390.0 638.1,410.0 639.4,425.0 640.6,432.5 641.9,421.2 643.1,410.0 644.4,410.0 645.6,417.5 647.2,421.2 648.5,410.0 649.8,395.0 651.0,383.8 652.2,377.5 653.5,376.2 654.4,387.5 655.6,400.0 656.9,410.0 658.1,415.0 659.8,420.0 661.2,425.0 662.5,415.0 663.8,402.5 665.0,401.2 666.0,410.0 666.9,425.0 667.8,440.0 668.5,471.2 669.4,478.8 670.2,465.0 671.0,440.0 671.9,427.5 673.8,424.4 675.6,425.0 676.9,432.5 678.1,427.5 679.4,415.0 681.0,402.5 682.2,395.6 683.1,400.0 684.0,410.0 685.0,425.0 686.0,440.0 686.5,465.0 687.5,490.0 688.1,495.0 689.0,477.5 690.0,452.5 691.0,440.0 691.9,427.5 693.1,415.0 694.4,402.5 695.6,401.2 696.5,410.0 697.8,420.0 699.4,422.5 701.0,425.0 702.2,415.0 703.8,413.1 705.6,412.5 706.9,417.5 708.1,425.0 709.8,430.0 711.2,427.5 712.5,420.0 713.1,415.0 714.0,422.5 715.6,421.9 717.2,422.5 718.8,427.5 720.0,432.5 721.0,440.0 721.5,458.8 722.5,477.5 723.5,490.0 724.4,477.5 725.2,452.5 725.6,440.0 726.9,427.5 728.5,425.0 730.0,420.0 731.5,415.0 732.8,408.1 734.0,410.0 735.0,412.5 736.0,417.5 736.9,427.5 737.8,440.0 739.0,452.5 740.0,467.5 740.6,470.0 741.5,458.8 742.5,440.0 743.5,427.5 744.8,415.0 746.2,408.8 747.8,412.5 749.4,415.0 750.6,420.0 751.9,432.5 753.1,435.0 754.4,425.0 755.6,423.8 756.9,432.5 757.5,440.0 757.8,458.8 758.4,490.0 759.0,527.5 759.1,540.0 759.4,571.3 760.5,612.5 761.2,640.0 761.6,654.4 762.1,665.4 763.0,661.3 764.1,647.5 765.7,640.0 767.6,629.0 768.7,626.3 769.7,633.1 770.4,631.8 771.8,612.5 772.9,591.9 774.2,571.3 775.2,550.6 775.3,528.8 776.2,510.0 777.5,490.0 778.8,471.2 780.0,455.0 781.2,445.0 782.2,442.5 783.5,441.9 784.4,445.0 785.6,442.5 786.5,440.0 787.5,432.5 789.4,425.0 791.2,415.0 793.1,400.0 794.4,393.8 795.6,387.5 796.9,380.0 798.1,382.5 799.4,392.5 800.6,405.0 801.9,412.5 803.1,417.5 804.4,420.0 805.6,422.5 806.9,420.0 808.1,416.2 810.0,415.0 811.2,413.8 813.1,414.4 814.4,420.0 815.6,422.5 816.9,420.0 818.1,416.2 819.4,422.5 820.6,430.0 821.9,432.5 823.1,425.0 824.4,415.0 826.2,410.0 828.1,407.5 830.0,402.5 831.9,396.9 832.8,405.0 833.8,412.5 835.0,420.0 836.2,430.0 836.9,440.0 837.2,447.5 837.8,450.0 838.5,445.0 838.4,440.0 838.8,438.8 840.0,430.0 841.2,425.0 843.1,420.0 844.4,400.0 845.6,391.2 846.9,388.8 848.5,385.0 850.0,378.8 851.5,382.5 852.8,395.0 854.0,398.8 855.2,390.0 856.5,381.2 857.5,390.0 858.8,395.0 860.0,390.0 861.2,392.5 862.2,407.5 863.5,425.0 864.4,429.4 865.6,420.0 866.9,410.0 868.1,415.0 869.4,425.0 870.6,431.9 871.5,432.5 872.8,420.0 874.0,415.0 875.0,402.5 876.2,392.5 877.5,390.0 878.8,392.5 880.0,402.5 881.2,412.5 882.5,413.8 883.8,400.0 885.0,383.8 886.2,376.2 887.5,381.2 888.8,386.2 890.0,382.5 891.2,377.5 892.5,381.2 893.8,395.0 895.0,407.5 896.2,411.2 897.5,402.5 898.8,396.2 900.0,405.0 901.0,410.0 902.2,400.0 903.5,385.0 905.0,377.5 906.2,377.5 907.5,371.2 908.8,368.8 910.0,362.5 911.2,356.2 912.2,353.8 913.1,357.5 914.4,360.0 915.6,363.8 917.5,365.0 918.8,366.2 920.0,365.0 921.2,372.5 922.5,395.0 923.8,415.0 925.0,426.2 926.2,425.0 927.5,415.0 928.8,405.0 930.0,397.5 931.2,387.5 932.5,380.0 933.8,381.2 935.0,395.0 936.2,412.5 937.5,422.5 938.1,440.0 938.5,448.1 939.2,440.0 940.0,415.0 941.2,392.5 942.5,377.5 943.8,373.8 945.0,375.0 946.2,372.5 947.5,368.8 948.8,370.0 950.0,375.0 951.2,382.5 952.5,385.0 953.8,383.8 955.0,380.0 956.2,385.0 957.5,395.0 958.8,410.0 960.0,425.0 961.2,436.2 961.9,440.0 962.5,463.8 963.0,440.0 963.8,427.5 965.0,415.0 966.2,405.0 967.5,398.8 968.8,397.5 970.0,400.0 971.2,403.8 972.5,405.0 973.8,392.5 975.0,390.0 976.2,390.0 977.2,395.0 978.5,400.0 979.8,401.9 981.0,398.8 982.2,391.2 983.5,389.4 984.8,386.2 986.2,381.9 987.5,382.5 988.8,380.6 990.0,380.0 991.2,382.5 992.5,375.0 993.8,362.5 995.0,351.2 996.2,348.8 997.2,343.8 997.8,340.0 999.0,325.0 1000.2,310.0 1001.9,297.5 1003.5,292.5 1004.4,297.5 1005.0,315.0 1005.5,340.0 1005.9,365.0 1006.5,402.5 1007.2,440.0 1007.5,490.0 1007.4,540.0 1007.8,571.3 1008.8,612.5 1009.4,640.0 1009.6,652.3 1010.3,640.0 1011.3,605.6 1012.6,571.3 1014.0,550.6 1015.4,540.0 1017.2,515.0 1018.1,483.8 1018.8,469.4 1019.5,483.8 1020.2,515.0 1021.1,540.0 1022.0,571.3 1022.9,612.5 1023.9,640.0 1024.5,648.9 1025.3,640.0 1026.7,626.3 1028.0,607.0 1029.4,585.0 1030.8,557.5 1031.4,540.0 1032.5,515.0 1033.8,490.0 1035.0,471.2 1036.2,456.2 1037.5,446.2 1038.5,440.0 1039.4,420.0 1040.6,402.5 1041.9,400.0 1043.1,392.5 1044.4,385.0 1045.6,390.0 1046.9,396.2 1048.1,397.5 1049.4,387.5 1050.6,371.2 1051.9,358.8 1052.8,356.2 1053.8,365.0 1055.0,381.2 1056.2,391.2 1057.5,387.5 1058.8,380.0 1060.0,375.0 1061.2,371.9 1062.5,370.6 1063.5,373.8 1064.4,380.0 1065.6,373.8 1066.5,372.5 1067.5,381.2 1068.8,390.0 1070.0,394.4 1071.2,388.8 1072.5,377.5 1073.8,368.8 1074.4,367.5 1075.6,375.0 1076.9,382.5 1078.1,383.8 1079.4,376.2 1080.6,371.2 1081.9,375.0 1083.1,382.5 1084.4,378.8 1085.6,372.5 1086.9,365.6 1088.1,370.0 1089.0,377.5 1090.0,385.0 1091.0,390.0 1091.9,377.5 1093.1,358.8 1094.4,343.8 1095.0,340.0 1097.2,336.2 1099.4,340.0 1100.6,352.5 1101.9,365.0 1103.1,380.0 1104.4,395.0 1105.6,407.5 1106.9,415.0 1108.1,413.8 1109.4,420.0 1110.6,426.2 1111.5,427.5 1112.5,415.0 1113.5,390.0 1114.8,365.0 1116.0,352.5 1117.2,351.2 1118.5,357.5 1119.8,365.0 1121.0,371.2 1122.5,372.5 1123.8,367.5 1125.0,365.0 1126.2,355.0 1127.5,345.0 1128.8,342.5 1130.0,340.0 1131.2,338.8 1132.5,336.2 1133.8,327.5 1135.0,317.5 1136.0,316.9 1136.9,321.2 1138.1,330.0 1139.4,340.0 1140.6,350.0 1141.9,357.5 1143.1,365.0 1144.0,369.4 1145.0,365.0 1146.2,360.0 1147.5,357.5 1148.8,350.0 1150.0,340.0 1151.2,331.2 1152.2,327.5 1153.1,335.0 1154.4,343.8 1155.6,346.9 1156.9,342.5 1158.1,340.0 1159.0,345.0 1160.0,360.0 1161.2,377.5 1162.0,390.0 1162.2,402.5 1162.9,406.9 1163.8,400.0 1164.8,390.0 1165.6,377.5 1166.9,362.5 1168.1,345.0 1169.4,333.8 1170.6,331.2 1171.5,340.0 1172.5,352.5 1173.8,362.5 1175.0,368.8 1176.2,367.5 1177.2,370.0 1178.5,365.0 1179.8,345.0 1181.0,327.5 1182.2,315.0 1183.5,302.5 1184.8,290.0 1185.6,265.0 1186.9,245.0 1187.8,242.2 1188.8,252.5 1189.8,277.5 1190.6,290.0 1191.5,308.8 1192.5,327.5 1193.8,337.5 1195.0,347.5 1196.2,357.5 1197.5,362.5 1198.8,357.5 1199.8,354.4 1200.6,360.0 1201.9,370.0 1203.1,376.2 1204.4,370.0 1205.6,360.0 1206.9,350.0 1208.1,345.0 1209.4,343.8 1210.6,352.5 1211.9,365.0 1213.1,371.2 1214.4,365.0 1215.6,361.2 1216.9,362.5 1218.1,367.5 1219.4,366.2 1220.6,370.0 1221.9,377.5 1223.1,385.0 1224.0,390.0 1225.6,405.0 1226.9,415.6 1227.8,405.0 1229.4,390.0 1230.2,365.0 1231.0,340.0 1231.9,315.0 1232.8,290.0 1233.5,275.0 1234.2,267.5 1235.0,277.5 1235.6,290.0 1236.5,302.5 1237.5,321.2 1238.5,337.5 1239.0,341.2 1239.8,333.8 1240.6,315.0 1241.5,300.0 1242.2,290.0 1243.1,288.1 1243.8,290.0 1244.8,296.2 1245.6,302.5 1246.9,308.8 1248.1,310.0 1249.0,302.5 1250.0,290.0 1250.5,275.0 1251.2,265.0 1251.9,262.5 1252.8,267.5 1253.8,280.0 1254.8,290.0 1255.2,300.0 1256.0,305.0 1257.2,302.5 1258.5,299.4 1260.0,298.8 1261.0,305.0 1261.9,315.0 1262.8,325.0 1263.5,327.5 1264.4,322.5 1265.6,315.0 1266.5,302.5 1267.5,301.2 1268.5,315.0 1269.4,340.0 1270.6,365.0 1271.9,383.8 1272.5,390.0 1273.0,402.5 1273.8,411.2 1274.8,402.5 1276.2,390.0 1277.2,370.0 1278.5,350.0 1279.8,340.0 1281.0,335.0 1281.9,338.8 1282.8,330.0 1284.0,322.5 1285.2,316.2 1286.2,315.0 1287.2,322.5 1288.1,326.2 1289.0,321.2 1290.2,316.9 1291.5,315.0 1292.8,311.2 1294.0,309.4 1295.0,318.8 1296.0,331.2 1297.2,347.5 1298.5,365.0 1299.4,372.5 1299.7,374.1 1300.6,370.0 1301.9,365.0 1303.1,360.0 1304.0,355.0 1305.0,358.8 1306.0,350.0 1306.9,337.5 1308.1,318.8 1309.4,306.2 1309.4,300.0 1309.8,296.2 1310.6,300.0 1311.5,310.0 1312.5,322.5 1313.8,337.5 1314.8,352.5 1315.6,362.5 1316.5,365.0 1317.5,361.2 1318.5,357.5 1319.4,362.5 1320.6,375.0 1321.9,387.5 1322.8,400.0 1323.8,413.8 1324.4,418.1 1325.0,412.5 1325.6,400.0 1326.2,387.5 1326.9,362.5 1327.8,337.5 1328.8,315.0 1329.9,300.0 1330.6,306.2 1331.5,315.0 1332.5,323.8 1333.8,331.2 1334.8,339.4 1336.2,341.2 1337.5,346.2 1339.4,343.8 1340.6,337.5 1341.9,325.0 1343.1,315.0 1344.4,306.2 1344.7,300.0 1345.6,295.0 1346.9,285.0 1348.1,272.5 1349.4,261.9 1350.2,265.0 1351.2,275.0 1352.5,287.5 1353.8,297.5 1354.8,300.0 1355.2,310.0 1356.0,318.8 1356.9,328.8"/>
<polyline stroke="#3CB371" points="235.0,448.8 235.4,452.5 236.2,470.0 237.2,500.0 237.8,523.8 239.0,548.8 240.2,560.2 241.5,550.0 242.5,517.5 242.9,500.0 243.8,462.5 245.0,437.5 246.2,426.2 248.1,416.2 250.0,411.6 251.0,400.0 251.9,387.5 253.5,375.0 255.6,367.5 257.8,365.0 260.2,364.0 261.5,368.8 263.1,380.0 264.4,392.5 265.6,410.0 267.5,421.2 269.4,432.5 270.6,417.5 271.9,405.0 273.1,400.6 274.4,410.0 276.2,421.2 278.1,432.5 280.0,446.2 281.2,448.8 282.8,441.2 284.4,428.8 285.6,420.0 287.5,426.2 288.8,425.0 290.2,422.5 291.9,427.5 293.5,438.8 295.6,446.2 297.5,431.2 299.4,417.5 300.6,405.0 302.2,400.0 303.5,407.5 304.8,418.8 306.2,426.2 307.5,425.0 308.8,415.0 310.0,405.0 311.2,406.2 312.5,410.0 314.0,413.8 315.6,422.5 316.9,407.5 318.1,398.8 319.4,408.8 321.0,417.5 322.5,423.8 324.0,422.5 325.0,432.5 326.5,450.0 328.1,467.5 329.8,478.8 331.2,467.5 332.5,455.0 334.0,443.8 335.6,433.8 336.9,430.0 338.1,438.8 339.8,435.0 341.2,422.5 343.1,405.0 344.4,397.5 345.6,405.0 347.2,415.0 348.8,423.8 350.0,428.8 351.5,426.2 352.8,432.5 354.4,450.0 356.0,433.8 357.2,420.0 358.5,422.5 360.0,435.0 361.2,442.5 363.1,440.0 364.8,435.0 366.2,436.2 367.5,450.0 368.8,467.5 369.4,480.0 368.9,483.1 369.8,500.6 371.1,518.1 372.6,530.4 373.7,522.5 374.6,505.0 375.2,487.5 375.2,480.0 376.0,455.0 377.2,430.0 378.5,410.0 380.0,396.2 381.2,393.8 382.5,396.2 384.4,392.5 386.2,392.5 387.2,402.5 388.1,412.5 389.8,403.8 391.2,407.5 392.8,408.8 394.4,417.5 396.2,432.5 398.1,441.2 400.0,423.8 401.9,421.2 403.8,417.5 405.2,427.5 406.5,405.0 407.8,386.2 408.8,380.0 409.0,375.0 410.2,360.0 411.2,359.8 412.5,365.0 413.8,366.2 414.8,370.0 416.2,363.8 418.1,361.2 419.0,375.0 419.4,380.0 420.6,392.5 421.9,401.2 423.1,405.0 424.0,430.0 424.9,462.5 425.6,487.5 426.5,500.0 427.5,508.8 428.8,496.2 429.8,465.0 430.4,440.0 431.2,415.0 432.5,405.0 433.8,390.0 435.0,365.0 435.4,340.0 436.3,319.4 437.9,298.8 439.3,282.3 440.1,278.1 441.1,282.3 441.8,298.8 442.4,326.3 443.1,340.0 444.4,390.0 445.0,440.0 445.8,490.0 446.6,540.0 447.7,557.5 449.1,572.6 450.4,573.3 451.4,571.3 452.2,576.1 453.6,575.4 454.6,564.4 455.9,546.5 456.8,540.0 457.8,521.2 458.8,502.5 460.2,507.5 461.5,492.5 463.1,477.5 464.4,458.8 464.8,440.0 465.6,427.5 466.9,410.0 468.1,395.0 469.8,390.2 471.2,395.0 472.5,410.0 473.8,421.2 475.0,435.0 476.2,440.0 476.9,432.5 479.0,428.8 480.6,435.0 481.5,440.0 481.9,450.0 482.8,457.5 484.0,452.5 485.0,443.8 486.9,440.0 489.4,447.5 490.6,458.8 491.9,481.2 493.1,496.2 494.4,503.8 495.6,493.8 496.9,471.2 498.1,447.5 497.8,440.0 498.1,427.5 499.4,415.0 500.6,402.5 501.9,393.8 503.1,401.2 504.4,396.2 505.6,401.2 506.9,398.8 508.1,410.0 509.4,427.5 510.1,440.0 511.0,446.2 511.8,440.0 512.5,430.0 514.4,422.5 515.6,412.5 517.2,402.5 518.1,415.0 519.0,432.5 519.1,440.0 519.4,452.5 520.6,471.2 521.5,490.0 522.5,515.0 523.5,526.2 524.8,520.0 526.0,512.5 526.9,520.0 527.8,532.5 528.3,540.0 528.8,545.8 529.8,540.0 531.0,515.0 531.9,490.0 532.8,465.0 533.4,440.0 534.0,415.0 535.2,390.0 536.2,376.2 537.5,380.0 538.5,392.5 539.8,405.0 541.2,415.0 542.5,425.0 543.8,435.0 543.9,440.0 545.0,450.0 546.5,461.2 548.1,447.5 548.6,440.0 549.4,415.0 550.6,400.0 551.9,390.0 553.8,381.2 555.6,373.8 556.9,370.0 557.8,377.5 558.8,388.8 560.0,382.5 561.2,377.5 562.5,378.1 563.5,390.0 564.8,402.5 566.0,415.0 567.5,430.0 568.1,440.0 568.8,458.8 570.0,477.5 571.0,487.5 572.2,475.0 573.8,455.0 574.9,440.0 575.6,435.0 576.9,438.8 577.8,435.0 578.8,427.5 580.0,410.0 581.2,398.8 582.5,395.0 583.8,402.5 585.2,415.0 586.5,423.1 587.8,415.0 589.0,396.2 590.2,377.5 591.5,375.0 592.8,390.0 594.4,410.0 595.6,417.5 596.9,396.2 598.1,371.2 599.0,363.8 600.0,363.1 601.0,387.5 602.2,400.0 603.8,407.5 605.0,390.0 606.0,383.8 607.2,396.2 608.5,410.0 610.0,417.5 611.2,405.0 612.5,392.5 613.5,389.4 614.8,400.0 615.6,420.0 616.2,440.0 616.9,465.0 617.8,496.2 618.8,527.5 619.2,540.0 619.6,551.7 620.2,551.3 621.0,540.0 622.2,502.5 623.1,465.0 624.0,446.2 624.4,440.0 625.0,438.8 626.2,436.2 627.5,437.5 628.8,420.0 630.0,400.0 631.2,380.0 632.5,376.2 633.8,372.5 635.0,377.5 636.2,392.5 637.5,410.0 638.8,425.0 640.0,431.2 641.2,425.0 642.5,421.2 643.8,415.0 644.8,408.8 645.6,415.0 646.5,430.0 647.5,433.8 648.8,420.0 650.0,400.0 651.5,386.2 652.8,377.5 653.8,376.2 654.8,390.0 655.6,405.0 656.9,411.2 658.1,420.0 659.4,425.0 660.6,430.0 661.9,427.5 663.1,417.5 664.4,412.5 665.2,420.0 666.2,432.5 666.8,440.0 667.2,465.0 668.1,487.5 669.0,498.8 670.0,487.5 671.0,465.0 671.9,440.0 673.8,437.5 675.6,433.8 677.2,432.5 678.5,420.0 680.0,406.2 681.2,402.5 682.2,403.8 683.1,415.0 684.4,430.0 685.0,440.0 685.2,465.0 686.2,490.0 687.2,505.0 687.9,508.1 688.8,500.0 689.8,477.5 691.0,452.5 691.9,440.0 692.8,427.5 693.8,412.5 695.0,402.5 696.0,401.2 696.9,410.0 697.9,427.5 698.2,440.0 699.0,445.0 699.9,440.0 700.6,432.5 701.9,421.2 703.1,418.1 704.4,422.5 706.0,426.2 707.5,430.0 709.0,433.8 710.6,432.5 711.9,427.5 713.1,425.0 714.8,427.5 716.2,430.0 718.1,432.5 719.4,436.2 719.8,440.0 720.2,458.8 721.2,483.8 722.5,502.5 723.5,510.0 724.4,502.5 725.6,477.5 726.9,452.5 727.6,440.0 728.1,445.0 729.0,448.8 729.8,440.0 730.6,430.0 732.2,425.0 733.8,417.5 735.0,416.2 736.0,427.5 736.5,440.0 737.5,458.8 738.8,480.0 740.0,493.8 740.6,494.4 741.5,483.8 742.5,465.0 743.8,446.2 744.1,440.0 744.6,437.5 745.1,440.0 746.9,458.8 748.8,483.8 750.6,508.8 751.9,520.0 753.1,523.1 754.4,535.0 754.7,540.0 755.9,550.6 756.9,571.3 758.0,598.8 758.8,626.3 759.4,640.0 759.7,640.6 760.8,664.0 761.9,680.5 762.4,684.4 763.2,679.1 764.2,664.0 765.2,647.5 765.2,640.0 765.6,634.5 766.5,624.9 767.6,623.5 769.0,624.9 770.4,626.3 771.8,624.9 773.1,609.8 774.5,591.9 775.9,571.3 777.0,550.6 776.8,540.0 777.2,527.5 778.5,502.5 779.8,477.5 781.0,465.0 782.2,465.6 783.5,481.2 785.0,483.8 786.2,490.0 787.2,495.0 788.1,483.8 789.4,467.5 790.6,455.0 791.9,450.0 792.8,443.8 793.5,440.0 794.0,421.2 795.0,402.5 796.2,390.0 797.5,388.8 798.5,393.8 799.4,402.5 800.6,412.5 801.9,420.0 803.1,421.2 804.4,427.5 805.6,436.2 806.5,427.5 807.5,421.2 808.8,430.0 809.8,425.0 811.0,420.0 812.2,418.8 813.1,426.2 814.4,425.0 815.6,422.5 816.9,427.5 818.1,425.0 819.4,435.0 820.6,438.8 821.9,435.0 823.1,422.5 824.4,410.0 826.0,407.5 827.2,402.5 828.5,400.0 829.8,398.8 831.0,407.5 832.2,412.5 833.5,417.5 834.8,420.0 835.6,433.8 836.0,440.0 836.9,452.5 837.5,461.9 838.5,452.5 839.4,440.0 840.6,427.5 841.9,425.0 843.1,410.0 844.4,395.0 845.6,387.5 846.9,385.0 848.1,382.5 849.8,376.2 851.0,383.8 852.2,393.8 853.5,395.0 854.8,390.0 856.0,381.2 857.2,386.2 858.5,383.1 859.8,387.5 861.0,392.5 861.9,405.0 863.1,420.0 864.4,425.0 865.6,415.0 866.9,406.2 868.1,411.2 869.4,422.5 870.6,431.2 871.9,425.0 873.1,417.5 874.4,420.0 875.0,407.5 876.0,393.8 876.9,385.6 878.1,387.5 879.4,398.8 880.6,410.0 881.5,417.5 882.2,430.0 882.8,440.0 882.2,449.4 882.6,440.0 884.4,427.5 885.0,402.5 886.0,383.8 887.2,381.2 888.5,385.0 889.8,383.8 891.0,375.0 891.9,371.2 892.8,380.0 893.8,392.5 895.0,400.0 896.2,403.8 897.5,405.0 898.8,400.0 900.0,403.8 901.2,400.0 902.5,390.0 903.8,377.5 905.0,367.5 906.2,365.0 907.5,363.8 908.8,360.0 910.0,352.5 911.2,346.2 912.2,343.8 913.1,347.5 914.0,352.5 915.0,351.2 916.0,356.2 917.2,361.2 918.5,365.0 919.8,368.8 921.0,371.2 922.2,390.0 923.5,410.0 924.8,422.5 926.0,426.2 927.2,417.5 928.5,405.0 929.8,395.0 931.0,387.5 932.2,380.0 933.1,377.5 934.0,387.5 935.0,402.5 936.2,417.5 937.5,432.5 937.8,440.0 938.5,449.8 939.9,440.0 941.2,415.0 941.9,390.0 942.5,372.5 943.8,372.5 945.0,366.9 946.2,365.0 947.5,370.0 948.8,382.5 950.0,383.1 951.2,377.5 952.5,382.5 953.8,385.0 955.0,381.2 956.2,386.2 957.5,393.8 958.8,407.5 959.5,422.5 960.0,440.0 961.0,465.0 962.5,480.6 963.8,465.0 964.5,440.0 964.8,427.5 965.2,415.0 966.2,407.5 967.5,405.0 968.8,407.5 970.0,412.5 971.2,417.5 972.5,421.2 973.8,410.0 975.0,402.5 976.2,405.0 977.5,408.1 979.0,407.5 980.2,405.0 981.5,402.5 982.8,400.0 983.8,397.5 985.0,402.5 986.2,405.0 987.5,403.8 988.8,401.2 990.0,400.0 991.2,406.2 992.5,412.5 993.8,402.5 994.8,398.8 996.0,402.5 996.9,407.5 998.1,407.5 999.4,412.5 1000.6,422.5 1001.9,430.0 1002.5,440.0 1003.8,452.5 1004.8,477.5 1005.6,515.0 1006.4,540.0 1006.9,571.3 1007.8,612.5 1008.8,640.0 1009.3,645.4 1010.4,640.0 1011.9,598.8 1013.3,564.4 1014.7,543.8 1015.1,540.0 1016.2,502.5 1017.5,471.2 1018.5,450.0 1019.0,440.0 1019.4,446.2 1020.2,477.5 1021.2,515.0 1022.3,540.0 1022.9,571.3 1023.9,605.6 1024.7,619.4 1025.7,612.5 1026.7,601.5 1027.8,587.8 1029.1,571.3 1030.5,554.8 1031.8,540.0 1033.1,521.2 1035.0,505.0 1036.9,490.0 1038.8,476.2 1040.0,465.0 1041.0,455.0 1042.2,447.5 1043.5,440.0 1044.4,435.6 1045.2,440.0 1046.5,448.8 1047.8,456.9 1048.8,450.0 1049.6,440.0 1050.0,427.5 1051.0,402.5 1051.9,392.5 1052.8,390.0 1053.8,402.5 1055.0,420.0 1056.0,430.0 1056.9,427.5 1058.1,417.5 1059.4,412.5 1060.6,410.0 1061.9,402.5 1063.1,397.5 1064.4,396.2 1065.6,398.8 1066.9,405.0 1068.1,411.2 1069.4,415.0 1070.6,410.0 1071.9,395.0 1073.1,386.2 1074.4,383.8 1075.6,387.5 1076.9,395.0 1078.1,393.8 1079.4,382.5 1080.2,376.9 1081.2,382.5 1082.5,390.0 1083.8,387.5 1085.0,380.0 1086.2,377.5 1087.5,378.1 1088.8,383.8 1090.0,390.0 1091.0,387.5 1091.9,375.0 1093.1,360.0 1094.4,347.5 1095.6,340.6 1096.5,338.8 1097.5,343.8 1098.8,350.0 1100.0,357.5 1101.2,362.5 1102.5,377.5 1103.8,392.5 1105.0,407.5 1106.2,420.0 1107.2,428.8 1108.5,427.5 1109.8,434.4 1111.2,432.5 1112.2,427.5 1113.1,410.0 1114.0,383.8 1115.0,358.8 1116.0,343.8 1117.0,340.0 1118.8,350.0 1120.0,360.0 1121.2,366.2 1122.5,365.0 1123.8,357.5 1125.0,353.8 1126.2,336.2 1127.5,337.5 1128.8,338.8 1130.0,332.5 1131.2,327.5 1132.5,320.0 1133.8,311.2 1135.0,308.8 1136.2,308.8 1137.2,320.0 1138.5,323.8 1139.8,332.5 1141.0,342.5 1142.2,352.5 1143.8,355.0 1145.0,353.8 1146.2,355.0 1147.5,350.0 1148.8,337.5 1150.0,320.0 1151.2,319.4 1152.5,318.8 1153.8,327.5 1155.0,337.5 1156.2,332.5 1157.5,333.1 1158.8,340.0 1160.0,357.5 1161.2,377.5 1162.2,390.0 1162.8,402.5 1163.5,406.2 1164.5,402.5 1165.0,390.0 1165.6,377.5 1166.9,360.0 1168.1,342.5 1169.4,331.2 1170.6,326.2 1171.5,333.8 1172.5,345.0 1173.8,352.5 1175.0,360.0 1176.2,362.5 1177.5,363.8 1178.5,360.0 1179.8,340.0 1181.0,321.2 1182.2,302.5 1183.5,290.0 1184.8,252.5 1186.0,225.0 1187.5,211.9 1188.8,225.0 1190.0,252.5 1191.2,280.0 1191.6,290.0 1192.5,305.0 1193.8,322.5 1195.0,337.5 1196.2,350.0 1197.5,360.0 1198.8,367.5 1200.0,372.5 1201.2,377.5 1202.5,380.0 1203.8,372.5 1205.0,365.0 1206.2,352.5 1207.5,340.0 1208.8,333.8 1210.0,333.1 1211.2,340.0 1212.5,347.5 1213.8,348.8 1215.0,346.9 1216.2,352.5 1217.5,360.0 1218.8,357.5 1220.0,360.0 1221.2,367.5 1222.5,377.5 1223.8,387.5 1224.4,390.0 1225.0,402.5 1226.2,410.6 1227.5,402.5 1228.1,390.0 1229.0,365.0 1230.0,333.8 1231.0,302.5 1231.5,290.0 1232.5,271.2 1233.5,255.0 1234.4,253.8 1235.2,265.0 1236.0,290.0 1236.5,300.0 1237.2,315.0 1238.5,323.8 1239.8,315.0 1241.0,300.0 1242.1,290.0 1243.8,292.5 1245.0,293.8 1246.2,292.5 1246.9,290.0 1248.1,275.0 1249.4,260.0 1250.6,248.8 1251.9,243.8 1252.8,245.0 1253.8,260.0 1255.0,272.5 1256.2,282.5 1257.5,283.1 1258.8,276.2 1259.8,273.1 1260.6,280.0 1261.2,290.0 1261.9,297.5 1263.1,306.2 1264.4,303.8 1265.6,298.8 1266.9,295.0 1268.1,302.5 1269.0,321.2 1270.0,346.2 1271.2,371.2 1272.2,390.0 1272.8,400.0 1273.5,408.8 1274.8,400.0 1275.6,390.0 1276.5,365.0 1277.5,345.0 1278.8,336.2 1280.0,325.0 1281.2,326.2 1282.5,315.0 1283.8,303.8 1285.0,300.0 1286.2,296.9 1287.2,297.5 1288.1,305.0 1289.0,313.8 1290.0,310.0 1291.2,297.5 1291.4,290.0 1291.9,288.8 1292.9,290.0 1293.5,300.0 1294.4,302.5 1295.6,315.0 1296.9,333.8 1298.1,352.5 1299.4,365.0 1300.0,365.3 1301.0,372.2 1301.9,367.5 1303.1,355.0 1304.4,337.5 1305.6,336.9 1306.9,325.0 1308.1,310.0 1308.6,300.0 1309.0,287.5 1309.8,282.8 1310.6,287.5 1311.5,295.0 1311.6,300.0 1311.9,312.5 1313.1,325.0 1314.4,335.0 1315.6,344.4 1316.9,341.9 1318.1,350.0 1319.4,362.5 1320.6,377.5 1321.9,390.0 1322.9,394.4 1323.8,387.5 1325.0,370.0 1326.0,350.0 1326.9,331.2 1327.8,312.5 1328.3,300.0 1329.0,296.2 1330.0,292.5 1331.0,291.2 1331.9,298.8 1333.1,300.0 1334.0,312.5 1334.8,316.9 1336.0,315.6 1337.5,315.0 1338.8,314.4 1340.0,311.9 1341.0,306.2 1341.4,300.0 1342.5,287.5 1343.8,262.5 1345.0,237.5 1346.2,231.2 1347.2,225.0 1348.1,214.0 1348.5,225.0 1348.8,243.8 1349.4,261.2"/>
</g>
<rect x="115.5" y="72.5" width="1242.0" height="655.0" fill="none" stroke="#000" stroke-width="1" shape-rendering="crispEdges"/>
<path d="M115.5 727.5h5.5 M115.5 661.5h5.5 M115.5 596.5h5.5 M115.5 530.5h5.5 M115.5 465.5h5.5 M115.5 399.5h5.5 M115.5 334.5h5.5 M115.5 268.5h5.5 M115.5 203.5h5.5 M115.5 137.5h5.5 M115.5 72.5h5.5 M243.5 727.5v-6.5 M385.5 727.5v-6.5 M527.5 727.5v-6.5 M669.5 727.5v-6.5 M811.5 727.5v-6.5 M952.5 727.5v-6.5 M1094.5 727.5v-6.5 M1236.5 727.5v-6.5" stroke="#000" stroke-width="1" fill="none" shape-rendering="crispEdges"/>
<path d="M115.5 711.5h4.5 M115.5 694.5h4.5 M115.5 678.5h4.5 M115.5 645.5h4.5 M115.5 629.5h4.5 M115.5 612.5h4.5 M115.5 580.5h4.5 M115.5 563.5h4.5 M115.5 547.5h4.5 M115.5 514.5h4.5 M115.5 498.5h4.5 M115.5 481.5h4.5 M115.5 449.5h4.5 M115.5 432.5h4.5 M115.5 416.5h4.5 M115.5 383.5h4.5 M115.5 367.5h4.5 M115.5 350.5h4.5 M115.5 318.5h4.5 M115.5 301.5h4.5 M115.5 285.5h4.5 M115.5 252.5h4.5 M115.5 236.5h4.5 M115.5 219.5h4.5 M115.5 187.5h4.5 M115.5 170.5h4.5 M115.5 154.5h4.5 M115.5 121.5h4.5 M115.5 105.5h4.5 M115.5 88.5h4.5 M136.5 727.5v-4.5 M172.5 727.5v-4.5 M207.5 727.5v-4.5 M278.5 727.5v-4.5 M314.5 727.5v-4.5 M349.5 727.5v-4.5 M420.5 727.5v-4.5 M456.5 727.5v-4.5 M491.5 727.5v-4.5 M562.5 727.5v-4.5 M598.5 727.5v-4.5 M633.5 727.5v-4.5 M704.5 727.5v-4.5 M740.5 727.5v-4.5 M775.5 727.5v-4.5 M846.5 727.5v-4.5 M881.5 727.5v-4.5 M917.5 727.5v-4.5 M988.5 727.5v-4.5 M1023.5 727.5v-4.5 M1059.5 727.5v-4.5 M1130.5 727.5v-4.5 M1165.5 727.5v-4.5 M1201.5 727.5v-4.5 M1272.5 727.5v-4.5 M1307.5 727.5v-4.5 M1343.5 727.5v-4.5" stroke="#555" stroke-width="1" fill="none" shape-rendering="crispEdges"/>
<rect x="1195" y="100" width="22" height="2" fill="#2F4F4F"/>
<rect x="1195" y="114" width="22" height="2" fill="#1E90FF"/>
<rect x="1195" y="128" width="22" height="2" fill="#DA70D6"/>
<rect x="1195" y="142" width="22" height="2" fill="#3CB371"/>
</svg>
<div class="t" id="title" style="font-weight:bold;font-size:14px;left:653px;top:41px;letter-spacing:.22px">VV Cep   PSO</div>
<div class="t" id="xlabel" style="font-size:13px;left:668px;top:753px">Wavelength (Angstrom)</div>
<div class="t" id="ylabel" style="font-size:13px;left:0;top:0;transform-origin:0 0;transform:translate(56.5px,448.5px) rotate(-90deg)">Relative intensity</div>
<div class="t yl" style="top:722.0px">0</div>
<div class="t yl" style="top:656.0px">0.2</div>
<div class="t yl" style="top:591.0px">0.4</div>
<div class="t yl" style="top:525.0px">0.6</div>
<div class="t yl" style="top:460.0px">0.8</div>
<div class="t yl" style="top:394.0px">1</div>
<div class="t yl" style="top:329.0px">1.2</div>
<div class="t yl" style="top:263.0px">1.4</div>
<div class="t yl" style="top:198.0px">1.6</div>
<div class="t yl" style="top:132.0px">1.8</div>
<div class="t yl" style="top:67.0px">2</div>
<div class="t xl" style="left:213.0px">3860</div>
<div class="t xl" style="left:355.0px">3880</div>
<div class="t xl" style="left:497.0px">3900</div>
<div class="t xl" style="left:639.0px">3920</div>
<div class="t xl" style="left:781.0px">3940</div>
<div class="t xl" style="left:922.0px">3960</div>
<div class="t xl" style="left:1064.0px">3980</div>
<div class="t xl" style="left:1206.0px">4000</div>
<div class="t lg" style="top:96px">2015-10-05.809</div>
<div class="t lg" style="top:110px">2016-10-30.787</div>
<div class="t lg" style="top:124px">2017-05-27.031</div>
<div class="t lg" style="top:138px">2017-06-04.068</div>
</body></html>
